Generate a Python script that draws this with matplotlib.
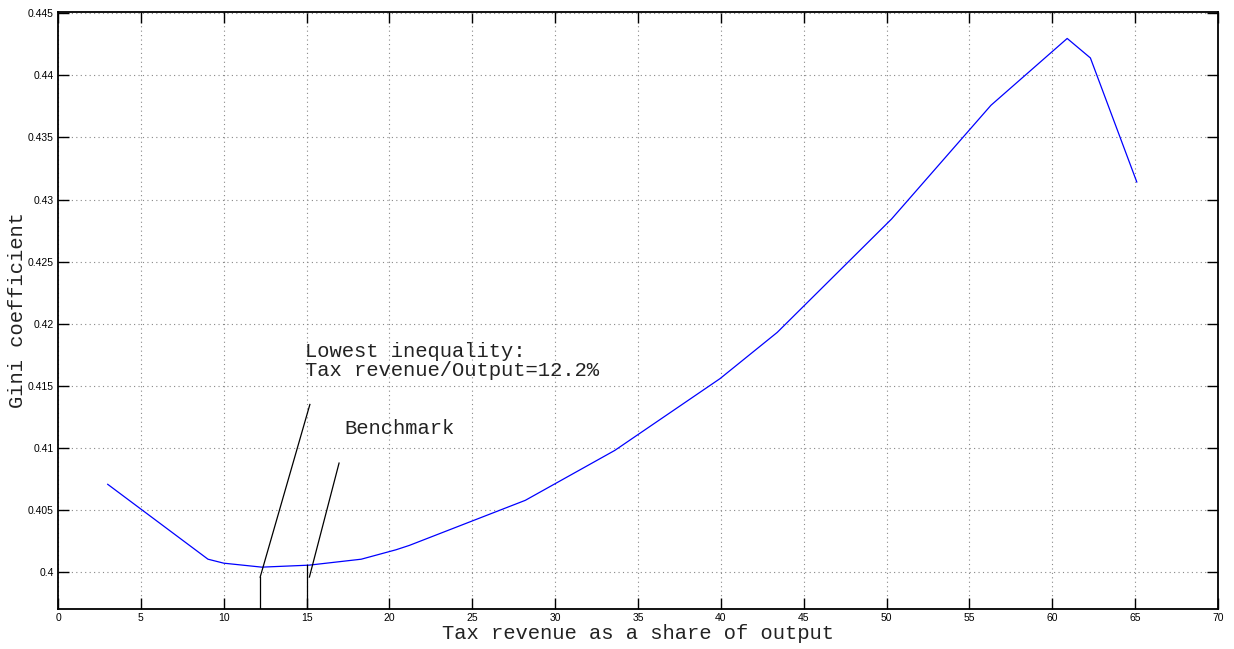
import matplotlib
matplotlib.use("Agg")
import matplotlib.pyplot as plt

# Data
tax_share = [3.0, 9.05, 10.0, 12.3, 15.15, 18.3, 20.4, 21.2, 28.2, 33.6, 39.95, 43.4, 50.3, 56.3, 60.9, 62.3, 65.1]
gini = [0.40707, 0.40104, 0.40072, 0.40040, 0.40056, 0.40104, 0.40180, 0.40215, 0.40578,
        0.40980, 0.41558, 0.41930, 0.42843, 0.43759, 0.44297, 0.44140, 0.43141]

x_ticks = list(range(0, 75, 5))
y_ticks = [0.4, 0.405, 0.41, 0.415, 0.42, 0.425, 0.43, 0.435, 0.44, 0.445]
y_tick_labels = ["0.4", "0.405", "0.41", "0.415", "0.42", "0.425", "0.43", "0.435", "0.44", "0.445"]

lowest_x = 12.2
benchmark_x = 15.0

mono = "Liberation Mono"
sans = "Liberation Sans"
text_color = "#222222"

fig = plt.figure(figsize=(12.34, 6.49), dpi=100)
ax = fig.add_axes([58/1234, 1 - 609/649, 1160/1234, 597/649])

ax.plot(tax_share, gini, color=(0, 0, 1), lw=0.9)

ymin, ymax = 0.39703, 0.4451
ax.set_xlim(0, 70)
ax.set_ylim(ymin, ymax)

# annotation lines
ax.plot([lowest_x, lowest_x], [ymin, 0.3996], color="black", lw=0.9)
ax.plot([lowest_x, 15.2], [0.3996, 0.4135], color="black", lw=0.9)
ax.plot([benchmark_x, benchmark_x], [ymin, 0.4006], color="black", lw=0.9)
ax.plot([15.17, 16.96], [0.3996, 0.40878], color="black", lw=0.9)

ax.text(14.9, 0.41735, "Lowest inequality:", family=mono, fontsize=14.8, va="baseline", ha="left", color=text_color)
ax.text(14.9, 0.41582, "Tax revenue/Output=12.2%", family=mono, fontsize=14.8, va="baseline", ha="left", color=text_color)
ax.text(17.28, 0.41114, "Benchmark", family=mono, fontsize=14.8, va="baseline", ha="left", color=text_color)

ax.set_xticks(x_ticks)
ax.set_xticklabels([str(t) for t in x_ticks], family=sans, fontsize=7.5)
ax.set_yticks(y_ticks)
ax.set_yticklabels(y_tick_labels, family=sans, fontsize=7.5)

ax.tick_params(direction="in", length=8, width=1, top=True, right=True, pad=3)
ax.grid(True, linestyle=(0, (1, 3)), color="#888888", lw=0.8)

for s in ax.spines.values():
    s.set_linewidth(1.3)

ax.set_xlabel("Tax revenue as a share of output", family=mono, fontsize=14.8, color=text_color)
ax.set_ylabel("Gini coefficient", family=mono, fontsize=14.8, color=text_color)
ax.xaxis.set_label_coords(0.5, -0.025)
ax.yaxis.set_label_coords(-0.027, 0.5)

fig.savefig("out.png", dpi=100)
